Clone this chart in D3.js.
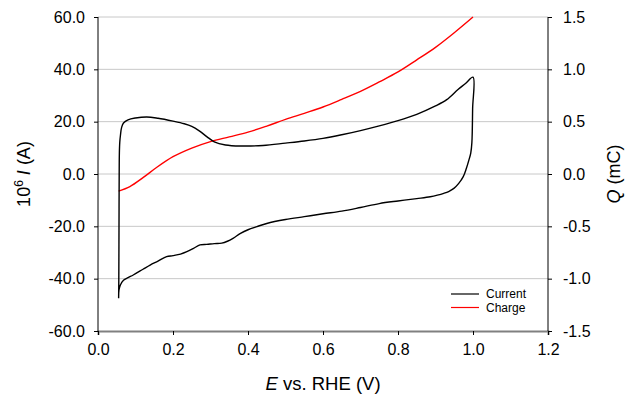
<!DOCTYPE html>
<html>
<head>
<meta charset="utf-8">
<script src="https://cdn.jsdelivr.net/npm/d3@7/dist/d3.min.js"></script>
<style>
  body { margin: 0; background: #fff; }
  svg text { font-family: "Liberation Sans", Arial, sans-serif; fill: #000; }
</style>
</head>
<body>
<div id="chart"></div>
<script>
// anodic sweep (E in V, 10^6 I in A)
var anodicE = [0.055, 0.0555, 0.056, 0.0565, 0.057, 0.058, 0.060, 0.063, 0.068, 0.08, 0.1, 0.13, 0.16, 0.2, 0.23, 0.25, 0.27, 0.29, 0.31, 0.34, 0.38, 0.44, 0.5, 0.55, 0.6, 0.65, 0.7, 0.75, 0.8, 0.85, 0.9, 0.93, 0.96, 0.98, 1.0];
var anodicI = [-47.5, -40, -20, 0, 8, 12, 15, 17.8, 19.5, 20.7, 21.4, 21.8, 21.3, 20.2, 19.2, 18.2, 16.5, 14.3, 12.3, 11.1, 10.7, 10.9, 11.8, 12.6, 13.6, 15.0, 16.6, 18.4, 20.4, 22.8, 26.0, 28.4, 32.3, 34.6, 37.0];
// cathodic sweep
var cathodicE = [1.0, 0.999, 0.997, 0.994, 0.989, 0.982, 0.974, 0.962, 0.949, 0.935, 0.922, 0.905, 0.886, 0.85, 0.8, 0.75, 0.7, 0.65, 0.6, 0.55, 0.5, 0.45, 0.424, 0.4, 0.38, 0.36, 0.345, 0.33, 0.31, 0.29, 0.272, 0.255, 0.237, 0.22, 0.2, 0.183, 0.16, 0.139, 0.12, 0.094, 0.08, 0.068, 0.06, 0.056, 0.055];
var cathodicI = [37.0, 25, 12, 8, 5.3, 2.0, -1.0, -3.6, -5.5, -6.7, -7.4, -8.1, -8.7, -9.4, -10.3, -11.3, -12.8, -14.2, -15.2, -16.3, -17.4, -18.9, -20.1, -21.3, -22.7, -24.6, -25.7, -26.4, -26.6, -26.9, -27.1, -28.4, -29.7, -30.6, -31.2, -31.6, -33.3, -34.8, -36.4, -38.6, -39.6, -40.6, -42.3, -44.3, -47.5];
// charge (mC)
var chargeE = [0.055, 0.085, 0.12, 0.157, 0.2, 0.25, 0.3, 0.35, 0.4, 0.45, 0.5, 0.55, 0.6, 0.65, 0.7, 0.75, 0.8, 0.85, 0.9, 0.95, 1.0];
var chargeQ = [-0.163, -0.12, -0.035, 0.064, 0.165, 0.248, 0.31, 0.355, 0.4, 0.458, 0.522, 0.58, 0.64, 0.713, 0.79, 0.88, 0.975, 1.09, 1.21, 1.35, 1.5];

var xTicks = [0, 0.2, 0.4, 0.6, 0.8, 1.0, 1.2];
var yLeftTicks = [-60, -40, -20, 0, 20, 40, 60];
var yRightTicks = [-1.5, -1.0, -0.5, 0, 0.5, 1.0, 1.5];
var legendLabels = ["Current", "Charge"];
var legendColors = ["#000000", "#ff0000"];

var width = 636, height = 398;
var margin = { top: 17, right: 88, bottom: 67, left: 98 };

var svg = d3.select("#chart").append("svg")
    .attr("width", width)
    .attr("height", height);

var x = d3.scaleLinear().domain([0, 1.2]).range([margin.left, width - margin.right]);
var yL = d3.scaleLinear().domain([-60, 60]).range([height - margin.bottom, margin.top]);
var yR = d3.scaleLinear().domain([-1.5, 1.5]).range([height - margin.bottom, margin.top]);

// plain hyphen minus, one decimal
var fmt = function (d) { return d.toFixed(1); };

// grid lines
svg.append("g").selectAll("line")
    .data(yLeftTicks.slice(1))
    .enter().append("line")
    .attr("x1", x(0)).attr("x2", x(1.2))
    .attr("y1", function (d) { return yL(d); })
    .attr("y2", function (d) { return yL(d); })
    .attr("stroke", "#c8c8c8")
    .attr("stroke-width", 1);

// bottom axis
var xAxis = svg.append("g")
    .attr("transform", "translate(0," + yL(-60) + ")")
    .call(d3.axisBottom(x).tickValues(xTicks).tickSize(4).tickPadding(9).tickFormat(fmt));
xAxis.select(".domain").attr("stroke", "#808080").attr("stroke-width", 2);
xAxis.selectAll("text").attr("font-size", "16px");

var yAxisL = svg.append("g")
    .attr("transform", "translate(" + x(0) + ",0)")
    .call(d3.axisLeft(yL).tickValues(yLeftTicks).tickSize(4).tickPadding(9).tickFormat(fmt));
yAxisL.selectAll("text").attr("font-size", "16px");
yAxisL.select(".domain").attr("d", "M0," + yL(60) + "V" + yL(-60));

var yAxisR = svg.append("g")
    .attr("transform", "translate(" + x(1.2) + ",0)")
    .call(d3.axisRight(yR).tickValues(yRightTicks).tickSize(4).tickPadding(11).tickFormat(fmt));
yAxisR.selectAll("text").attr("font-size", "16px");
yAxisR.select(".domain").attr("d", "M0," + yR(1.5) + "V" + yR(-1.5));

// curves
var loop = anodicE.map(function (e, i) { return [e, anodicI[i]]; })
    .concat(cathodicE.map(function (e, i) { return [e, cathodicI[i]]; }).slice(1));
var charge = chargeE.map(function (e, i) { return [e, chargeQ[i]]; });

var lineI = d3.line()
    .x(function (d) { return x(d[0]); })
    .y(function (d) { return yL(d[1]); })
    .curve(d3.curveCatmullRom.alpha(0.5));
var lineQ = d3.line()
    .x(function (d) { return x(d[0]); })
    .y(function (d) { return yR(d[1]); })
    .curve(d3.curveMonotoneX);

svg.append("path")
    .attr("d", lineQ(charge))
    .attr("fill", "none")
    .attr("stroke", "#ff0000")
    .attr("stroke-width", 1.4);

svg.append("path")
    .attr("d", lineI(loop))
    .attr("fill", "none")
    .attr("stroke", "#000")
    .attr("stroke-width", 1.4);

// axis titles
var xTitle = svg.append("text")
    .attr("x", x(0.6))
    .attr("y", 390)
    .attr("text-anchor", "middle")
    .attr("font-size", "18.5px");
xTitle.append("tspan").attr("font-style", "italic").text("E");
xTitle.append("tspan").text(" vs. RHE (V)");

var yTitle = svg.append("text")
    .attr("transform", "translate(30," + yL(0) + ") rotate(-90)")
    .attr("text-anchor", "middle")
    .attr("font-size", "18px");
yTitle.append("tspan").text("10");
yTitle.append("tspan").attr("font-size", "12px").attr("dy", "-7").text("6");
yTitle.append("tspan").attr("dy", "7").text(" ");
yTitle.append("tspan").attr("font-style", "italic").text("I");
yTitle.append("tspan").text(" (A)");

var rTitle = svg.append("text")
    .attr("transform", "translate(620," + yR(0) + ") rotate(-90)")
    .attr("text-anchor", "middle")
    .attr("font-size", "18px");
rTitle.append("tspan").attr("font-style", "italic").text("Q");
rTitle.append("tspan").text(" (mC)");

// legend
var legend = svg.append("g").selectAll("g")
    .data(legendLabels)
    .enter().append("g")
    .attr("transform", function (d, i) { return "translate(451," + (294 + i * 13.5) + ")"; });
legend.append("line")
    .attr("x1", 0).attr("x2", 28)
    .attr("stroke", function (d, i) { return legendColors[i]; })
    .attr("stroke-width", 1.2);
legend.append("text")
    .attr("x", 35)
    .attr("dy", "0.35em")
    .attr("font-size", "12px")
    .text(function (d) { return d; });
</script>
</body>
</html>
